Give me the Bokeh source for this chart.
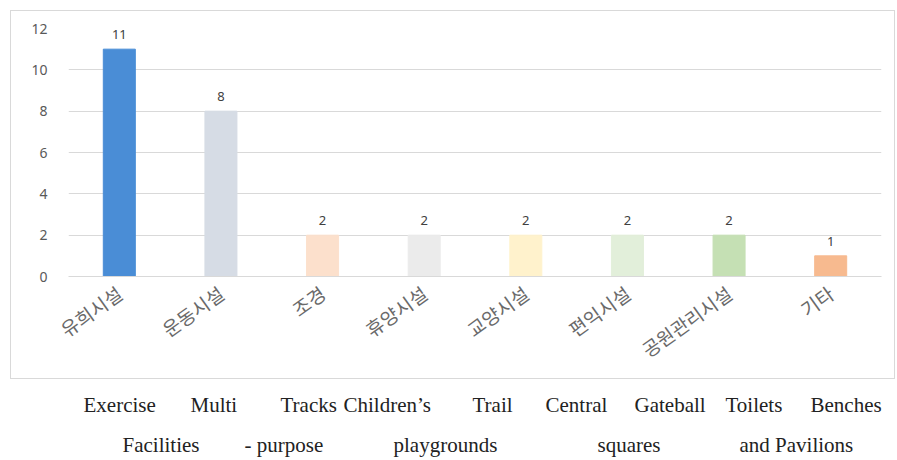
from bokeh.plotting import figure
from bokeh.models import ColumnDataSource, LabelSet, FactorRange, Range1d
from bokeh.layouts import column
from bokeh.core.properties import value
from bokeh.embed import file_html
from bokeh.resources import INLINE

# ---- data ----
categories = ["유희시설", "운동시설", "조경", "휴양시설", "교양시설", "편익시설", "공원관리시설", "기타"]
counts = [11, 8, 2, 2, 2, 2, 2, 1]
bar_colors = ["#4A8DD6", "#D6DCE5", "#FCE0CC", "#EBEBEB", "#FFF2CC", "#E2EFDA", "#C5E0B4", "#F7BA8F"]
y_ticks = [0, 2, 4, 6, 8, 10, 12]
en_row1 = ["Exercise", "Multi", "Tracks", "Children\u2019s", "Trail", "Central", "Gateball", "Toilets", "Benches"]
en_row2 = ["Facilities", "- purpose", "playgrounds", "squares", "and Pavilions"]

# ---- layout constants (page px) ----
BOX_L, BOX_T, BOX_R, BOX_B = 10, 10, 896, 380
FL, FR, FT, FB = 68, 881, 28, 276  # plot frame edges on the page
row1_x = [83, 190, 280, 343, 472, 545, 634, 725, 810]
row2_x = [122, 244, 393, 597, 739]
row1_base, row2_base = 412, 452
BASE_SHIFT = 6  # empirical vertical correction of the caption strip

cw = BOX_R - BOX_L - 1
ch = BOX_B - BOX_T - 1
cl, ct = BOX_L + 1, BOX_T + 1
border_l = FL - cl
border_r = (cl + cw) - FR

src = ColumnDataSource(dict(cat=categories, val=counts, color=bar_colors,
                            lab=[str(v) for v in counts]))

p = figure(width=cw, height=ch, x_range=FactorRange(*categories), y_range=(0, 12),
           output_backend="svg", toolbar_location=None,
           min_border_left=border_l, min_border_right=border_r,
           min_border_top=FT - ct, min_border_bottom=(ct + ch) - FB,
           margin=(BOX_T, 0, 0, BOX_L))
p.styles = {"border": "1px solid #D9D9D9"}

p.vbar(x="cat", top="val", width=0.315, color="color", source=src)

labels = LabelSet(x="cat", y="val", text="lab", source=src, text_align="center",
                  text_baseline="bottom", y_offset=10, text_font_size="13px",
                  text_color="#404040", text_font=value("Noto Sans"))
p.add_layout(labels)

p.outline_line_color = None
p.xgrid.grid_line_color = None
p.ygrid.grid_line_color = "#D9D9D9"
p.ygrid.grid_line_width = 1
p.yaxis.ticker = y_ticks
p.yaxis.axis_line_color = None
p.yaxis.major_tick_line_color = None
p.yaxis.minor_tick_line_color = None
p.yaxis.major_tick_out = 0
p.yaxis.major_label_standoff = 21
p.yaxis.major_label_text_font = "Noto Sans"
p.yaxis.major_label_text_font_size = "14px"
p.yaxis.major_label_text_color = "#595959"

p.xaxis.axis_line_color = "#D9D9D9"
p.xaxis.major_tick_line_color = None
p.xaxis.major_tick_out = 0
p.xaxis.major_label_orientation = 0.62
p.xaxis.major_label_standoff = 14
p.xaxis.major_label_text_font = "Noto Sans CJK KR"
p.xaxis.major_label_text_font_size = "19px"
p.xaxis.major_label_text_color = "#6A6A6A"

# English caption rows below the chart box
qh = 460 - (BOX_B + 1)
q = figure(width=897, height=qh,
           x_range=Range1d(border_l, 897 - border_r), y_range=Range1d(qh, 0),
           output_backend="svg", toolbar_location=None,
           x_axis_type=None, y_axis_type=None,
           min_border_left=border_l, min_border_right=border_r,
           min_border_top=0, min_border_bottom=0, margin=(0, 0, 0, 0))
q.outline_line_color = None
q.grid.visible = False
top = BOX_B + 1 + BASE_SHIFT
en_src = ColumnDataSource(dict(
    x=row1_x + row2_x,
    y=[row1_base - top] * len(en_row1) + [row2_base - top] * len(en_row2),
    t=en_row1 + en_row2))
q.text(x="x", y="y", text="t", source=en_src,
       text_font=value("'Liberation Serif', 'Times New Roman', serif"),
       text_font_size="21px", text_color="#222222", text_baseline="alphabetic",
       text_align="left")

open("out.html", "w").write(file_html(column(p, q, spacing=0), INLINE))
